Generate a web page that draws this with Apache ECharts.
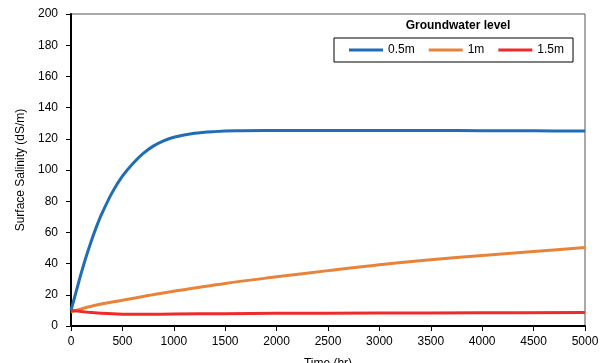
<!DOCTYPE html>
<html>
<head>
<meta charset="utf-8">
<script src="https://cdn.jsdelivr.net/npm/echarts@6/dist/echarts.min.js"></script>
<style>
  html, body { margin: 0; padding: 0; background: #fff; }
  #chart { width: 604px; height: 363px; }
</style>
</head>
<body>
<div id="chart"></div>
<script>
  // values
  var timeBlue = [0, 50, 100, 150, 200, 250, 300, 400, 500, 600, 700, 800, 900, 1000, 1200, 1400, 1600, 2000, 2500, 3000, 3500, 4000, 4500, 5000]
  var level05 = [10, 22, 34, 45, 55, 64, 72, 85.5, 96, 104, 110.5, 115.3, 118.7, 121, 123.5, 124.6, 125.1, 125.3, 125.4, 125.4, 125.3, 125.2, 125.1, 125]

  var timeOrange = [0, 100, 250, 500, 750, 1000, 1500, 2000, 2500, 3000, 3500, 4000, 4500, 5000]
  var level1 = [9, 11, 13.5, 16.5, 19.5, 22.3, 27.3, 31.5, 35.5, 39.3, 42.5, 45.2, 47.8, 50.3]

  var timeRed = [0, 100, 200, 300, 500, 700, 1000, 1500, 2000, 3000, 4000, 5000]
  var level15 = [10, 9.3, 8.6, 8.1, 7.6, 7.5, 7.7, 7.9, 8.1, 8.3, 8.5, 8.6]

  var seriesNames = ['0.5m', '1m', '1.5m']
  var colors = ['#1f6eb5', '#e8843a', '#ee2a2a']

  function pairs(xs, ys) {
    return xs.map(function (x, i) { return [x, ys[i]] })
  }

  function lineSeries(name, data) {
    return {
      name: name,
      type: 'line',
      smooth: 0.35,
      showSymbol: false,
      lineStyle: { width: 3 },
      data: data
    }
  }

  var myChart = echarts.init(document.getElementById('chart'))
  var font = 'Liberation Sans, Arial, sans-serif'

  myChart.setOption({
    animation: false,
    color: colors,
    textStyle: { fontFamily: font },
    title: {
      text: 'Groundwater level',
      left: 458,
      textAlign: 'center',
      top: 20,
      padding: 0,
      textStyle: { fontSize: 12, fontWeight: 'bold', color: '#000', fontFamily: font }
    },
    legend: {
      data: seriesNames,
      left: 334,
      top: 38,
      padding: [6, 9, 6, 15],
      itemGap: 14,
      itemWidth: 34,
      itemHeight: 3,
      icon: 'rect',
      borderColor: '#000',
      borderWidth: 1,
      textStyle: { fontSize: 12, color: '#000', fontFamily: font }
    },
    grid: {
      left: 71,
      right: 19,
      top: 14,
      bottom: 37,
      show: true,
      borderColor: '#555',
      borderWidth: 1,
      outerBoundsMode: 'none'
    },
    xAxis: {
      type: 'value',
      min: 0,
      max: 5000,
      interval: 500,
      name: 'Time (hr)',
      nameLocation: 'middle',
      nameGap: 32,
      nameTextStyle: { fontSize: 12, color: '#000' },
      axisLine: { lineStyle: { color: '#000', width: 2 } },
      axisTick: { length: 5, lineStyle: { color: '#000', width: 1 } },
      axisLabel: { fontSize: 12, color: '#000', margin: 10, formatter: function (v) { return String(v) } },
      splitLine: { show: false }
    },
    yAxis: {
      type: 'value',
      min: 0,
      max: 200,
      interval: 20,
      name: 'Surface Salinity (dS/m)',
      nameLocation: 'middle',
      nameGap: 43,
      nameTextStyle: { fontSize: 12, color: '#000' },
      axisLine: { show: true, lineStyle: { color: '#000', width: 2 } },
      axisTick: { show: true, length: 5, lineStyle: { color: '#000', width: 1 } },
      axisLabel: { fontSize: 12, color: '#000', margin: 13 },
      splitLine: { show: false }
    },
    series: [
      lineSeries(seriesNames[0], pairs(timeBlue, level05)),
      lineSeries(seriesNames[1], pairs(timeOrange, level1)),
      lineSeries(seriesNames[2], pairs(timeRed, level15))
    ]
  })
</script>
</body>
</html>
